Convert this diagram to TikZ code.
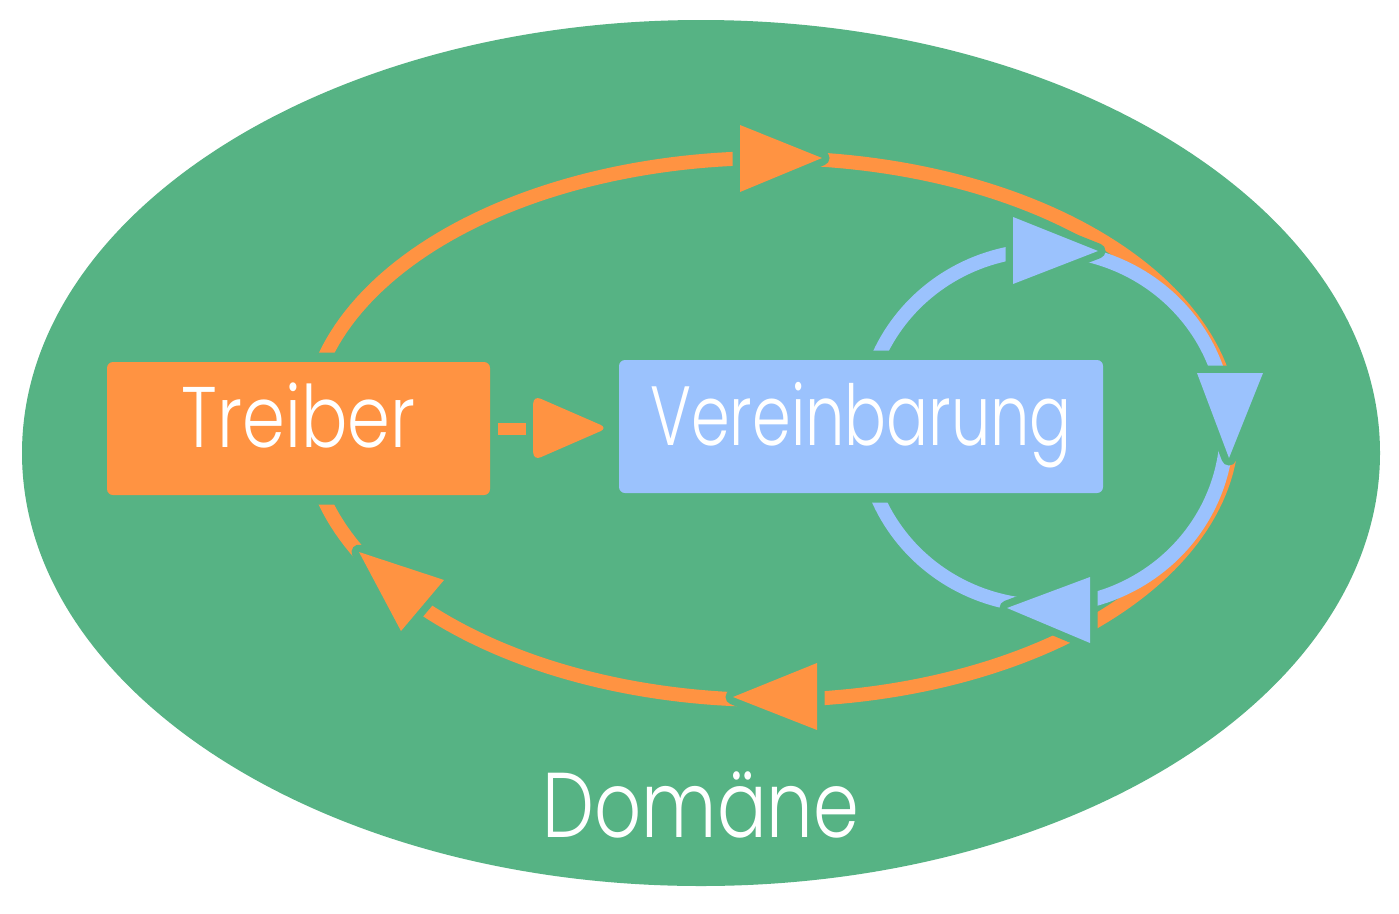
\documentclass[tikz,border=0pt]{standalone}
\usepackage{fontspec}
\setmainfont{Poppins}[UprightFont=* Light]
\newfontfamily\fta{Poppins}[UprightFont=* Light, FakeStretch=0.8]
\newfontfamily\ftb{Poppins}[UprightFont=* Light, FakeStretch=0.74]
\usetikzlibrary{calc}
\definecolor{grn}{HTML}{56B384}
\definecolor{orng}{HTML}{FF9342}
\definecolor{blu}{HTML}{9BC2FD}
\tikzset{
  oseg/.style={draw=orng, line width=14pt},
  bseg/.style={draw=blu, line width=14pt},
  halo/.style={preaction={draw=grn, line width=15pt, line join=round}},
  tri/.style={halo},
  box/.style={rounded corners=6pt, inner sep=0pt, text=white,
    text height=37pt, text depth=0pt,
    preaction={draw=grn, line width=19pt}},
}
\begin{document}
\begin{tikzpicture}[x=1pt,y=-1pt]
\fill[white] (0,0) rectangle (1399,913);
\useasboundingbox (0,0) rectangle (1399,913);
% domain
\fill[grn] (701,453) ellipse [x radius=679, y radius=433];
% orange loop
\draw[oseg] plot[domain=0:360, samples=240] ({770+462*cos(\x)},{429+271*sin(\x)}) -- cycle;
% orange arrowheads
\coordinate (ot1) at (822,158);
\coordinate (ot2) at (733,697);
\coordinate (ot3) at (359,552);
\fill[orng, tri] (740,125) -- (740,192) -- (ot1) -- cycle;
\fill[orng, tri] (817,663) -- (817,730) -- (ot2) -- cycle;
\fill[orng, tri] (444,580) -- (401,631) -- (ot3) -- cycle;
% blue loop
\draw[bseg] plot[domain=0:360, samples=200] ({1045+182*cos(\x)},{428+178*sin(\x)}) -- cycle;
% blue arrowheads
\coordinate (bt1) at (1098,251);
\coordinate (bt2) at (1229,458);
\coordinate (bt3) at (1007,608);
\fill[blu, tri] (1013,217) -- (1013,284) -- (bt1) -- cycle;
\fill[blu, tri] (1197,373) -- (1263,373) -- (bt2) -- cycle;
\fill[blu, tri] (1090,577) -- (1090,643) -- (bt3) -- cycle;
% boxes
\node[box, fill=orng, minimum width=383pt, minimum height=133pt,
  font=\fta\fontsize{86}{100}\selectfont] (treiber) at (298.5,428.5) {Treiber};
\node[box, fill=blu, minimum width=484pt, minimum height=133pt,
  font=\ftb\fontsize{84}{100}\selectfont] (verein) at (861,426.5) {Vereinbarung};
% connector Treiber -> Vereinbarung
\draw[orng, line width=12pt] ($(treiber.east)+(8,0)$) -- ($(treiber.east)+(36,0)$);
\fill[orng, rounded corners=8pt] ($(treiber.east)+(43,-33)$) -- ($(verein.west)+(-11,1.5)$) -- ($(treiber.east)+(43,32)$) -- cycle;
% domain label
\node[anchor=base, text=white, inner sep=0pt, font=\fta\fontsize{92}{110}\selectfont] (dom) at (701,837) {Domäne};
\end{tikzpicture}
\end{document}
